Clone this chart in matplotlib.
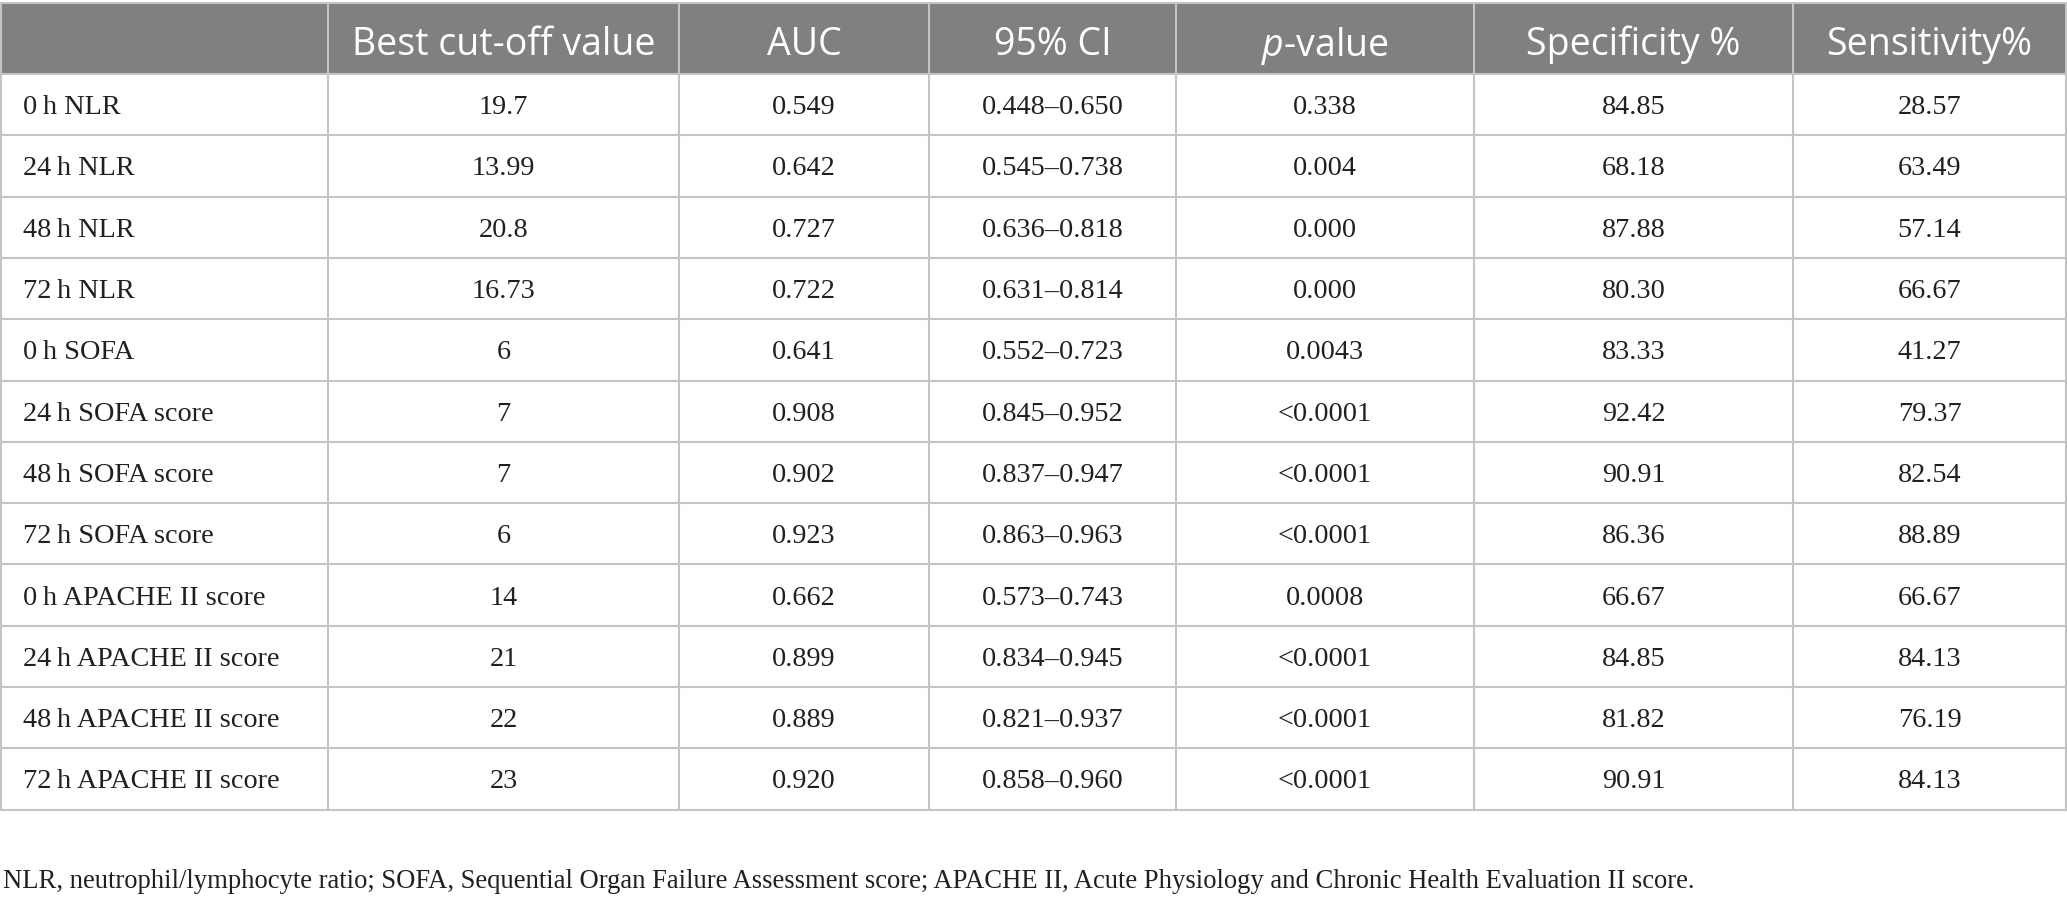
import matplotlib
matplotlib.use('Agg')
import matplotlib.pyplot as plt
from matplotlib.patches import Rectangle

# === Data ===
headers = ['', 'Best cut-off value', 'AUC', '95% CI', r'$\it{p}$-value',
           'Specificity %', 'Sensitivity%']
row_labels = ['0\u2009h NLR', '24\u2009h NLR', '48\u2009h NLR', '72\u2009h NLR',
              '0\u2009h SOFA', '24\u2009h SOFA score', '48\u2009h SOFA score',
              '72\u2009h SOFA score', '0\u2009h APACHE II score',
              '24\u2009h APACHE II score', '48\u2009h APACHE II score',
              '72\u2009h APACHE II score']
cutoff = ['19.7', '13.99', '20.8', '16.73', '6', '7', '7', '6', '14', '21', '22', '23']
auc = ['0.549', '0.642', '0.727', '0.722', '0.641', '0.908', '0.902', '0.923',
       '0.662', '0.899', '0.889', '0.920']
ci95 = ['0.448\u20130.650', '0.545\u20130.738', '0.636\u20130.818', '0.631\u20130.814',
        '0.552\u20130.723', '0.845\u20130.952', '0.837\u20130.947', '0.863\u20130.963',
        '0.573\u20130.743', '0.834\u20130.945', '0.821\u20130.937', '0.858\u20130.960']
pval = ['0.338', '0.004', '0.000', '0.000', '0.0043', '<0.0001', '<0.0001',
        '<0.0001', '0.0008', '<0.0001', '<0.0001', '<0.0001']
spec = ['84.85', '68.18', '87.88', '80.30', '83.33', '92.42', '90.91', '86.36',
        '66.67', '84.85', '81.82', '90.91']
sens = ['28.57', '63.49', '57.14', '66.67', '41.27', '79.37', '82.54', '88.89',
        '66.67', '84.13', '76.19', '84.13']
footnote = ('NLR, neutrophil/lymphocyte ratio; SOFA, Sequential Organ Failure '
            'Assessment score; APACHE II, Acute Physiology and Chronic Health '
            'Evaluation II score.')

columns = [row_labels, cutoff, auc, ci95, pval, spec, sens]

# === Layout (pixels) ===
W, H = 2067, 911
col_x = [1, 328, 679, 929, 1176, 1474, 1793, 2066]
head_top, head_bot = 3, 74
row_h = 61.3
n_rows = len(row_labels)
table_bot = head_bot + n_rows * row_h

plt.rcParams['mathtext.fontset'] = 'custom'
plt.rcParams['mathtext.it'] = 'Open Sans:italic'
plt.rcParams['mathtext.rm'] = 'Open Sans'

fig = plt.figure(figsize=(W / 100, H / 100), dpi=100)
ax = fig.add_axes([0, 0, 1, 1])
ax.set_xlim(0, W)
ax.set_ylim(H, 0)
ax.axis('off')

head_fill = '#808080'
line_col = '#c4c4c4'
txt_col = '#231f20'
serif = ['Liberation Serif', 'DejaVu Serif']

# header band
ax.add_patch(Rectangle((col_x[0], head_top), col_x[-1] - col_x[0],
                       head_bot - head_top, facecolor=head_fill, edgecolor='none'))

# grid lines
for i in range(n_rows + 1):
    y = head_bot + i * row_h
    ax.plot([col_x[0], col_x[-1]], [y, y], color=line_col, lw=1.5,
            solid_capstyle='butt')
ax.plot([col_x[0], col_x[-1]], [head_top, head_top], color=line_col, lw=1.5)
for j, x in enumerate(col_x):
    ax.plot([x, x], [head_top, table_bot], color=line_col, lw=1.5)

# header text
for j, h in enumerate(headers):
    if not h:
        continue
    xc = (col_x[j] + col_x[j + 1]) / 2
    ax.text(xc, (head_top + head_bot) / 2 + 2, h, ha='center', va='center_baseline',
            color='white', fontsize=27, family='Open Sans')

# body text
for i in range(n_rows):
    yc = head_bot + (i + 0.5) * row_h
    for j, col in enumerate(columns):
        if j == 0:
            ax.text(col_x[0] + 22, yc, col[i], ha='left', va='center_baseline',
                    color=txt_col, fontsize=20.3, family=serif)
        else:
            xc = (col_x[j] + col_x[j + 1]) / 2
            ax.text(xc, yc, col[i], ha='center', va='center_baseline',
                    color=txt_col, fontsize=20.3, family=serif)

ax.text(3, 879, footnote, ha='left', va='center_baseline', color=txt_col,
        fontsize=19.2, family=serif)

fig.savefig('out.png', dpi=100, facecolor='white')
